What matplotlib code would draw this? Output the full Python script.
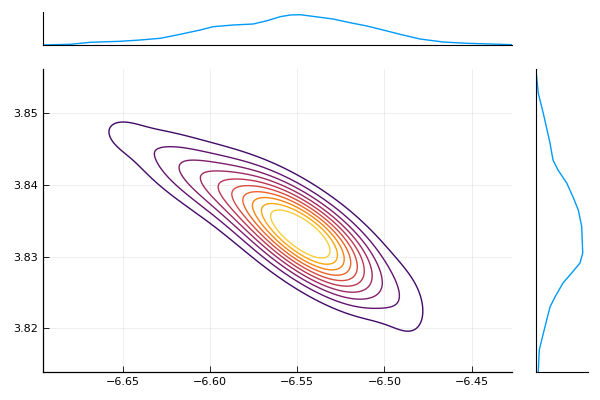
import numpy as np
import matplotlib
matplotlib.use("Agg")
import matplotlib.pyplot as plt

# ---- data ----
# 2-D density approximated by a mixture of ridge components (data units):
# x ~ N(cx, sx), y = cy + slope*(x-cx) + N(0, sr)
comp_x = [-6.545, -6.545, -6.600, -6.650, -6.486]
comp_y = [3.8347, 3.8307, 3.8403, 3.8470, 3.8226]
comp_sx = [0.026, 0.026, 0.030, 0.010, 0.011]
comp_slope = [-0.14, -0.14, -0.12, -0.06, -0.10]
comp_sr = [0.0030, 0.0030, 0.0031, 0.0018, 0.0042]
comp_w = [0.5, 0.5, 0.28, 0.011, 0.034]
level_lo, level_hi = 0.085, 0.84   # contour levels as fraction of peak density

# top marginal (x density)
top_x = [-6.6954, -6.6799, -6.6685, -6.6513, -6.6399, -6.6284, -6.6170, -6.6055,
         -6.5981, -6.5866, -6.5752, -6.5672, -6.5597, -6.5540, -6.5483, -6.5294,
         -6.5197, -6.5100, -6.4985, -6.4911, -6.4796, -6.4664, -6.4527, -6.4338, -6.4270]
top_d = [0.0, 0.21, 0.81, 1.11, 1.5, 2.01, 3.21, 4.5, 5.49, 6.0, 6.3, 7.29, 8.49,
         9.0, 9.09, 7.8, 6.69, 5.7, 4.2, 3.21, 1.8, 0.9, 0.51, 0.21, 0.09]

# right marginal (y density)
right_y = [3.85604, 3.85279, 3.85000, 3.84586, 3.84349, 3.84209, 3.84028, 3.83833,
           3.83651, 3.83418, 3.83052, 3.82912, 3.82773, 3.82633, 3.82438, 3.82298,
           3.82117, 3.81838, 3.81699, 3.81396]
right_d = [0.0, 2.3, 7.3, 14.0, 17.0, 22.0, 30.7, 37.0, 42.3, 45.7, 46.7, 44.0,
           35.7, 27.0, 19.0, 14.0, 10.7, 5.7, 3.3, 2.3]

x_ticks = [-6.65, -6.60, -6.55, -6.50, -6.45]
y_ticks = [3.82, 3.83, 3.84, 3.85]
x_lim = (-6.6954, -6.4271)
y_lim = (3.81396, 3.85614)
n_levels = 10

# ---- figure ----
plt.rcParams['font.family'] = ['DejaVu Sans']
fig = plt.figure(figsize=(6, 4), dpi=100)
ax = fig.add_axes([0.0722, 0.0708, 0.7806, 0.7560])
axt = fig.add_axes([0.0722, 0.8875, 0.7806, 0.0825])
axr = fig.add_axes([0.8933, 0.0708, 0.0867, 0.7560])

gx = np.linspace(x_lim[0], x_lim[1], 500)
gy = np.linspace(y_lim[0], y_lim[1], 500)
X, Y = np.meshgrid(gx, gy)
Z = np.zeros_like(X)
for cx, cy, sx, b, sr, w in zip(comp_x, comp_y, comp_sx, comp_slope, comp_sr, comp_w):
    u = (X - cx) / sx
    e = (Y - cy - b * (X - cx)) / sr
    Z += w * np.exp(-0.5 * (u**2 + e**2)) / (2 * np.pi * sx * sr)

zmax = Z.max()
levels = list(zmax * np.linspace(level_lo, level_hi, n_levels))
cmap = plt.get_cmap('inferno')
colors = [cmap(v) for v in np.linspace(0.2, 0.88, n_levels)]
ax.contour(X, Y, Z, levels=levels, colors=colors, linewidths=1.0)

ax.set_xlim(*x_lim)
ax.set_ylim(*y_lim)
ax.set_xticks(x_ticks)
ax.set_yticks(y_ticks)
ax.set_xticklabels([f"\u2212{abs(v):.2f}" for v in x_ticks])
ax.set_yticklabels([f"{v:.2f}" for v in y_ticks])
ax.tick_params(direction='in', length=4, width=0.6, labelsize=8, colors='black', pad=4)
ax.grid(True, color='black', alpha=0.08, linewidth=0.6)
for s in ['top', 'right']:
    ax.spines[s].set_visible(False)
for s in ['left', 'bottom']:
    ax.spines[s].set_linewidth(0.9)

line_col = '#009af9'
axt.plot(top_x, top_d, color=line_col, linewidth=1.0)
axt.set_xlim(*x_lim)
axt.set_ylim(0, max(top_d) * 1.089)
axt.set_xticks([])
axt.set_yticks([])
for s in ['top', 'right']:
    axt.spines[s].set_visible(False)

axr.plot(right_d, right_y, color=line_col, linewidth=1.0)
axr.set_ylim(*y_lim)
axr.set_xlim(0, max(right_d) * 1.113)
axr.set_xticks([])
axr.set_yticks([])
for s in ['top', 'right']:
    axr.spines[s].set_visible(False)

fig.savefig('out.png', dpi=100)
